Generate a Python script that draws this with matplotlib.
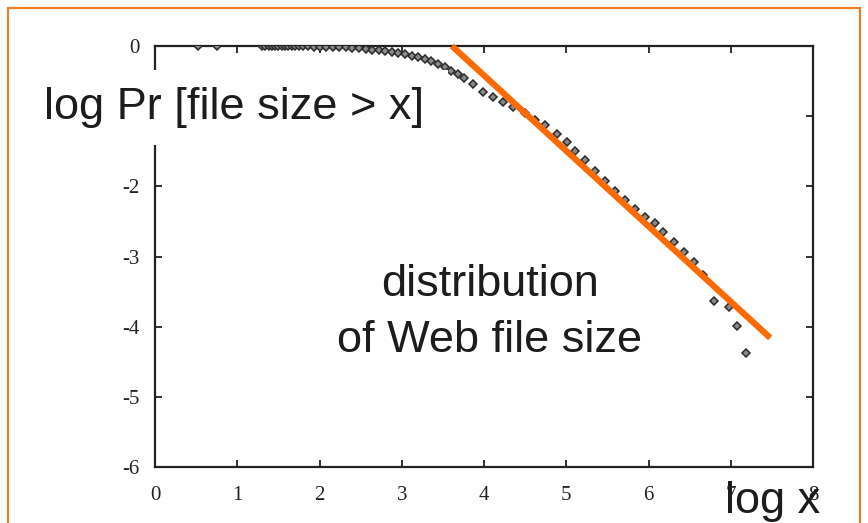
import matplotlib
matplotlib.use("Agg")
import matplotlib.pyplot as plt
from matplotlib.patches import Rectangle

plt.rcParams["axes.unicode_minus"] = False

log_x = [0.52, 0.75, 1.30, 1.34, 1.38, 1.42, 1.46, 1.50, 1.54, 1.58, 1.62, 1.66,
         1.70, 1.75, 1.80, 1.86, 1.93, 2.00, 2.08, 2.16, 2.24, 2.32, 2.40, 2.48,
         2.56, 2.64, 2.72, 2.80, 2.88, 2.96, 3.04, 3.12, 3.20, 3.28, 3.36, 3.44,
         3.52, 3.60, 3.68, 3.76, 3.87, 3.99, 4.11, 4.23, 4.35, 4.50, 4.62, 4.74,
         4.89, 5.01, 5.11, 5.23, 5.35, 5.47, 5.59, 5.71, 5.84, 5.96, 6.08, 6.18,
         6.31, 6.43, 6.55, 6.66, 6.80, 6.98, 7.08, 7.19]
log_p = [0.0, 0.0, 0.0, 0.0, 0.0, 0.0, 0.0, 0.0, 0.0, 0.0, 0.0, 0.0,
         0.0, 0.0, -0.005, -0.005, -0.01, -0.01, -0.01, -0.015, -0.02, -0.02, -0.025, -0.03,
         -0.04, -0.05, -0.06, -0.07, -0.09, -0.10, -0.12, -0.14, -0.16, -0.19, -0.22, -0.26,
         -0.30, -0.35, -0.40, -0.45, -0.54, -0.65, -0.72, -0.80, -0.87, -0.96, -1.05, -1.13,
         -1.25, -1.37, -1.50, -1.62, -1.78, -1.93, -2.07, -2.20, -2.32, -2.43, -2.52, -2.65,
         -2.79, -2.93, -3.08, -3.26, -3.63, -3.72, -3.99, -4.37]

# straight power-law fit drawn in orange
fit_x = [3.61, 7.48]
fit_y = [0.0, -4.16]

x_ticks = [0, 1, 2, 3, 4, 5, 6, 7, 8]
y_ticks = [0, -1, -2, -3, -4, -5, -6]

W, H = 868, 523
fig = plt.figure(figsize=(W / 100, H / 100), dpi=100)
ax = fig.add_axes([155 / W, 1 - 467 / H, (813 - 155) / W, (467 - 46) / H])

ax.plot(log_x, log_p, linestyle="none", marker="D", markersize=4,
        markerfacecolor="#8a8a8a", markeredgecolor="#2a2a2a", markeredgewidth=1.1,
        zorder=3)
ax.plot(fit_x, fit_y, color="#ff6a00", linewidth=4.5, solid_capstyle="butt",
        clip_on=False, zorder=4)

ax.set_xlim(0, 8)
ax.set_ylim(-6, 0)
ax.set_xticks(x_ticks)
ax.set_yticks(y_ticks)
ax.tick_params(direction="in", length=5, width=1.3, top=True, right=True,
               labelsize=15, labelcolor="#222222", colors="#222222")
ax.tick_params(axis="y", pad=11)
ax.tick_params(axis="x", pad=14)
for lab in ax.get_xticklabels() + ax.get_yticklabels():
    lab.set_family("Liberation Serif")
for sp in ax.spines.values():
    sp.set_linewidth(1.6)
    sp.set_color("#222222")

txt = dict(family="Liberation Sans", fontsize=32.5, color="#1c1c1c")

# white box behind the y label (it hides the -1 tick and part of the axis)
fig.add_artist(Rectangle((35 / W, 1 - 145 / H), (448 - 35) / W, 75 / H,
                         transform=fig.transFigure, facecolor="white",
                         edgecolor="none", zorder=5))
fig.text(44 / W, 1 - 108 / H, "log Pr [file size > x]", ha="left", va="center",
         zorder=6, **txt)
fig.text(490 / W, 1 - 285 / H, "distribution", ha="center", va="center",
         zorder=6, **txt)
fig.text(490 / W, 1 - 341 / H, "of Web file size", ha="center", va="center",
         zorder=6, **txt)
fig.text(773 / W, 1 - 501 / H, "log x", ha="center", va="center",
         zorder=6, **txt)

# orange frame around the slide figure
fig.add_artist(Rectangle((8 / W, -0.05), (860 - 8) / W, 1.05 - 8 / H,
                         transform=fig.transFigure, facecolor="none",
                         edgecolor="#f07a20", linewidth=1.5, zorder=7))

fig.savefig("out.png", dpi=100)
